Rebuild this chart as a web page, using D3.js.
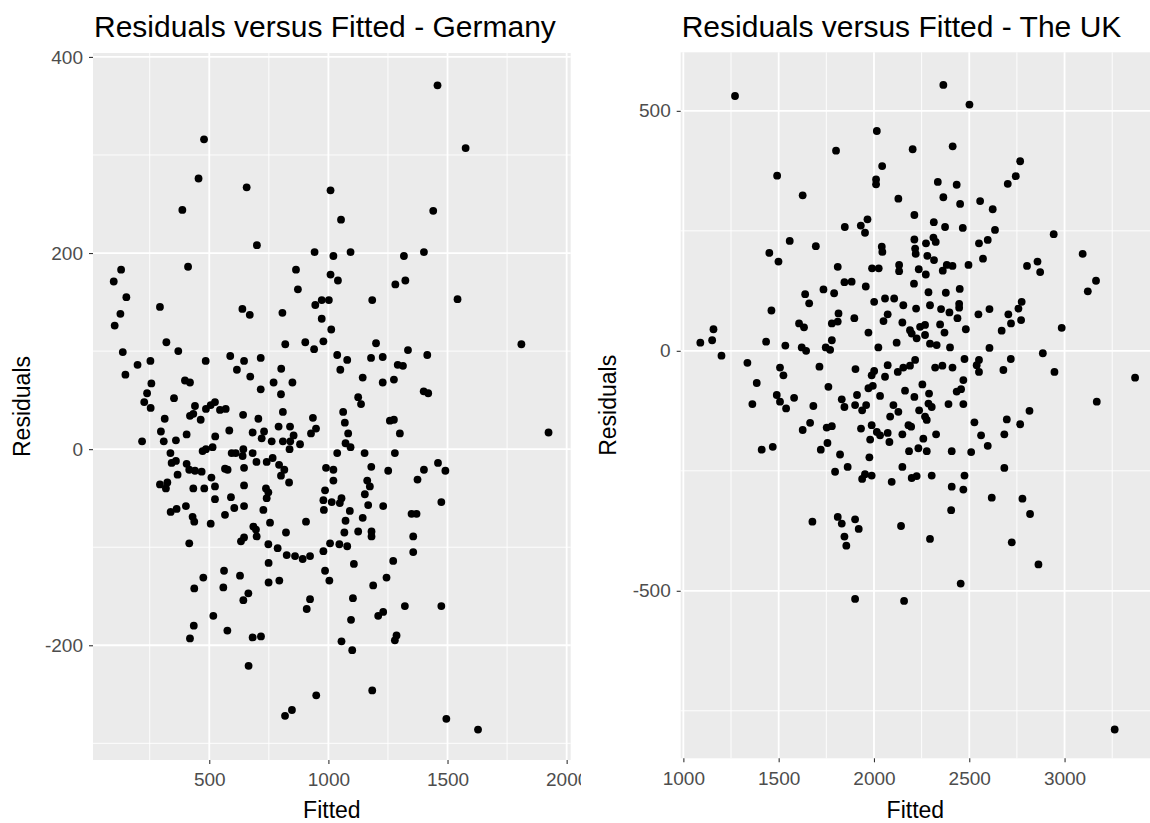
<!DOCTYPE html>
<html>
<head>
<meta charset="utf-8">
<script src="https://cdn.jsdelivr.net/npm/d3@7"></script>
<style>
  body { margin: 0; background: #fff; }
  text { font-family: "Liberation Sans", Arial, sans-serif; }
</style>
</head>
<body>
<svg id="chart" width="1150" height="823"></svg>
<script>
// [fitted, residual]
const germany = [
  [478,316],[455,276],[657,267],[387,244],[700,208],[942,201],[130,183],[411,186],[99,171],[864,183],
  [872,163],[152,155],[293,145],[127,138],[639,143],[670,137],[807,139],[103,126],[945,147],[320,109],
  [370,100],[137,99],[819,107],[903,109],[940,102],[199,86],[253,90],[148,76],[485,90],[588,95],
  [616,81],[646,90],[716,93],[672,74],[802,82],[257,67],[398,70],[419,68],[716,61],[770,68],
  [849,68],[801,56],[239,57],[352,52],
  [1458,371],[1576,307],[1009,264],[1053,234],[1440,243],[1021,197],[1093,201],[1317,197],[1401,201],[1009,178],
  [1040,172],[1281,168],[1323,172],[972,152],[1002,152],[1184,152],[1542,153],[972,133],[1012,122],[979,110],
  [1200,108],[1810,107],[1037,96],[1079,91],[1179,93],[1228,94],[1334,101],[1415,96],[1050,81],[1291,86],
  [1313,85],[1144,73],[1228,68],[1275,71],[1400,59],[1419,57],[1125,53],
  [227,48],[254,42],[440,44],[433,36],[419,34],[464,30],[486,41],[506,45],[524,48],[545,40],
  [569,41],[642,35],[706,31],[809,38],[935,32],[313,31],[297,18],[218,8],[309,8],[360,9],
  [405,15],[525,13],[584,19],[682,17],[730,18],[720,11],[791,23],[839,23],[854,14],[762,8],
  [809,8],[840,8],[881,5],[837,0],[927,16],[948,21],[337,-4],[342,-14],[360,-12],[405,-15],
  [416,-21],[440,-22],[468,-23],[367,-26],[472,-2],[486,0],[514,2],[594,-4],[611,-4],[643,0],
  [640,-7],[682,-4],[698,-13],[741,-13],[766,-9],[793,-16],[815,-21],[801,-27],[835,-34],[566,-20],
  [577,-21],[646,-19],[509,-29],[524,-38],[524,-51],[293,-36],[324,-34],[318,-40],[433,-40],[479,-40],
  [646,-37],[591,-49],[738,-40],[748,-44],[741,-50],[338,-64],[363,-61],[402,-58],[430,-69],[437,-74],
  [506,-76],[566,-67],[605,-60],[646,-58],[727,-62],[755,-75],[906,-74],[685,-79],[696,-82],[416,-96],
  [633,-94],[646,-90],[822,-85],[699,-89],[748,-97],[787,-101],[825,-108],[860,-109],[892,-112],[923,-109],
  [749,-116],[794,-134],[749,-136],[562,-124],[629,-129],[559,-141],[475,-131],[437,-142],[664,-147],[643,-154],
  [923,-153],[909,-163],[517,-170],[435,-180],[576,-185],[419,-193],[682,-192],[717,-191],[665,-221],[949,-251],
  [847,-266],[818,-272],
  [1137,46],[1062,38],[1069,27],[1083,16],[1072,6],[1093,2],[1258,29],[1275,30],[1300,16],[1924,17],
  [1037,-4],[1152,-4],[1279,-4],[990,-19],[1021,-21],[1180,-18],[1251,-22],[1401,-21],[1460,-14],[1491,-22],
  [1021,-32],[1374,-31],[1163,-32],[1174,-38],[986,-42],[1153,-46],[979,-52],[1014,-54],[1055,-50],[1048,-55],
  [981,-62],[1167,-57],[1230,-58],[1090,-63],[1144,-70],[1349,-66],[1370,-66],[1474,-54],[1072,-73],[1067,-85],
  [1125,-84],[1181,-84],[1181,-89],[1356,-89],[1007,-96],[1046,-97],[1079,-99],[979,-104],[1356,-105],[1107,-117],
  [1272,-114],[986,-124],[1004,-134],[1188,-139],[1244,-131],[1103,-152],[1321,-160],[1474,-160],[1209,-170],[1230,-166],
  [1095,-174],[1286,-190],[1279,-195],[1055,-196],[1100,-205],[1184,-246],[1495,-275],[1628,-286]
];

const uk = [
  [1271,531],[2015,458],[1801,417],[2043,385],[1492,365],[2011,357],[2011,347],[1626,324],[1966,274],[1931,261],
  [1953,246],[1847,258],[1558,229],[1695,218],[1451,204],[1499,186],[2041,217],[2044,206],[1810,175],[1990,172],
  [2025,172],[1845,143],[1883,144],[1957,134],[1735,128],[1791,120],[1639,118],[1660,99],[2001,102],[2058,109],
  [2106,109],[1462,84],[1814,78],[1810,61],[1779,57],[1897,68],[2072,76],[2050,62],[1607,57],[1633,49],
  [1971,38],[1158,45],[1151,22],[1089,17],[1200,-10],[1434,19],[1535,11],[1621,7],[1644,0],[1747,7],
  [1770,2],[1779,22],[2023,7],[1336,-25],[1507,-35],[1525,-51],[1714,-33],[1903,-38],[1988,-51],[2001,-42],
  [2072,-30],[2058,-54],[1385,-67],[1761,-75],[1971,-78],[1994,-73],[1490,-92],[1581,-98],[2032,-94],[1831,-101],
  [1911,-92],
  [2364,554],[2501,513],[2203,420],[2413,426],[2767,395],[2744,364],[2702,348],[2335,352],[2434,346],[2128,317],
  [2364,320],[2452,306],[2557,312],[2623,295],[2212,283],[2314,268],[2373,258],[2466,256],[2635,252],[2943,243],
  [2212,232],[2273,224],[2312,236],[2324,227],[2551,224],[2597,231],[2216,213],[2219,202],[2280,198],[2315,189],
  [2572,192],[3095,202],[2132,179],[2132,166],[2235,170],[2272,159],[2361,167],[2382,179],[2412,177],[2496,179],
  [2803,177],[2858,186],[2872,164],[2210,140],[2286,122],[2377,121],[2450,129],[3165,146],[3122,124],[2154,95],
  [2221,88],[2294,95],[2352,87],[2396,80],[2447,98],[2447,90],[2438,68],[2548,76],[2606,87],[2775,102],
  [2758,88],[2705,76],[2719,57],[2772,64],[2670,42],[2985,48],[2149,59],[2119,17],[2189,43],[2198,36],
  [2224,26],[2242,50],[2268,54],[2268,33],[2294,15],[2329,12],[2347,55],[2370,38],[2399,7],[2482,45],
  [2606,6],[2886,-5],[2947,-44],[3370,-56],[2216,-19],[2189,-31],[2154,-35],[2125,-44],[2321,-35],[2359,-31],
  [2412,-35],[2475,-17],[2539,-30],[2551,-19],[2551,-44],[2679,-40],[2718,-17],[2469,-61],[2254,-70],[2163,-83],
  [2212,-96],[2289,-89],[2434,-85],[2457,-80],
  [1362,-111],[1507,-106],[1539,-120],[1682,-115],[1845,-117],[1901,-113],[1938,-124],[1959,-113],[2085,-137],[2102,-113],
  [1665,-150],[1626,-165],[1752,-160],[1779,-157],[1932,-162],[1988,-155],[2015,-169],[2032,-176],[1980,-185],[2072,-171],
  [2081,-190],[1411,-206],[1469,-200],[1721,-206],[1756,-192],[1822,-216],[1976,-222],[1862,-242],[1796,-252],[1938,-267],
  [1953,-257],[1988,-260],[2093,-273],[1677,-356],[1810,-346],[1831,-360],[1901,-351],[1920,-371],[1845,-387],[1855,-406],
  [1901,-517],
  [2128,-127],[2286,-110],[2303,-117],[2237,-124],[2268,-137],[2277,-144],[2391,-111],[2469,-111],[3169,-106],[2816,-125],
  [2697,-143],[2767,-153],[2527,-149],[2181,-155],[2195,-158],[2149,-174],[2259,-183],[2326,-174],[2562,-176],[2684,-174],
  [2597,-198],[2184,-209],[2233,-203],[2277,-209],[2408,-209],[2510,-211],[2149,-242],[2198,-265],[2224,-261],[2303,-260],
  [2475,-260],[2684,-244],[2408,-283],[2469,-289],[2618,-306],[2779,-308],[2819,-340],[2405,-332],[2142,-365],[2294,-392],
  [2723,-399],[2863,-445],[2455,-485],[2158,-521],[3263,-789]
];

const germanyXTicks = [500, 1000, 1500, 2000];
const germanyXMinor = [250, 750, 1250, 1750];
const germanyYTicks = [-200, 0, 200, 400];
const germanyYMinor = [-300, -100, 100, 300];

const ukXTicks = [1000, 1500, 2000, 2500, 3000];
const ukXMinor = [1250, 1750, 2250, 2750, 3250];
const ukYTicks = [-500, 0, 500];
const ukYMinor = [-750, -250, 250];

const svg = d3.select("#chart");

const panels = [
  { title: "Residuals versus Fitted - Germany", data: germany,
    xDomain: [12, 2017], yDomain: [-317, 404],
    xTicks: germanyXTicks, xMinor: germanyXMinor, yTicks: germanyYTicks, yMinor: germanyYMinor,
    left: 93, right: 570.7, top: 53, bottom: 760, clipRight: 581, labelX: 22 },
  { title: "Residuals versus Fitted - The UK", data: uk,
    xDomain: [986, 3485], yDomain: [-849, 622],
    xTicks: ukXTicks, xMinor: ukXMinor, yTicks: ukYTicks, yMinor: ukYMinor,
    left: 680.7, right: 1157, top: 52.3, bottom: 758.3, clipRight: 1150, labelX: 608 }
];

panels.forEach((p, i) => {
  const x = d3.scaleLinear().domain(p.xDomain).range([p.left, p.right]);
  const y = d3.scaleLinear().domain(p.yDomain).range([p.bottom, p.top]);

  svg.append("clipPath").attr("id", "clip" + i)
    .append("rect").attr("x", 0).attr("y", 0)
    .attr("width", p.clipRight).attr("height", 823);

  const g = svg.append("g").attr("clip-path", "url(#clip" + i + ")");

  g.append("rect")
    .attr("x", p.left).attr("y", p.top)
    .attr("width", p.right - p.left).attr("height", p.bottom - p.top)
    .attr("fill", "#EBEBEB");

  // minor grid
  g.selectAll(".vminor").data(p.xMinor).join("line")
    .attr("x1", d => x(d)).attr("x2", d => x(d))
    .attr("y1", p.top).attr("y2", p.bottom)
    .attr("stroke", "#fff").attr("stroke-width", 0.9);
  g.selectAll(".hminor").data(p.yMinor).join("line")
    .attr("y1", d => y(d)).attr("y2", d => y(d))
    .attr("x1", p.left).attr("x2", p.right)
    .attr("stroke", "#fff").attr("stroke-width", 0.9);

  // major grid
  g.selectAll(".vmajor").data(p.xTicks).join("line")
    .attr("x1", d => x(d)).attr("x2", d => x(d))
    .attr("y1", p.top).attr("y2", p.bottom)
    .attr("stroke", "#fff").attr("stroke-width", 1.8);
  g.selectAll(".hmajor").data(p.yTicks).join("line")
    .attr("y1", d => y(d)).attr("y2", d => y(d))
    .attr("x1", p.left).attr("x2", p.right)
    .attr("stroke", "#fff").attr("stroke-width", 1.8);

  g.selectAll(".pt").data(p.data).join("circle")
    .attr("cx", d => x(d[0]))
    .attr("cy", d => y(d[1]))
    .attr("r", 3.9)
    .attr("fill", "#000");

  const xAxis = g.append("g")
    .attr("transform", "translate(0," + p.bottom + ")")
    .call(d3.axisBottom(x).tickValues(p.xTicks).tickSize(4).tickPadding(9).tickFormat(d => String(d)));
  const yAxis = g.append("g")
    .attr("transform", "translate(" + p.left + ",0)")
    .call(d3.axisLeft(y).tickValues(p.yTicks).tickSize(4).tickPadding(6).tickFormat(d => String(d)));

  [xAxis, yAxis].forEach(a => {
    a.select(".domain").remove();
    a.selectAll(".tick line").attr("stroke", "#333").attr("stroke-width", 1.1);
    a.selectAll(".tick text").attr("fill", "#4D4D4D").style("font-size", "19px");
  });

  g.append("text")
    .attr("x", p.left + 1).attr("y", 37)
    .style("font-size", "30px").attr("fill", "#000")
    .text(p.title);

  g.append("text")
    .attr("x", (p.left + Math.min(p.right, 1150)) / 2).attr("y", 818)
    .attr("text-anchor", "middle")
    .style("font-size", "23px").attr("fill", "#000")
    .text("Fitted");

  g.append("text")
    .attr("transform", "translate(" + (p.labelX + 8) + "," + ((p.top + p.bottom) / 2) + ") rotate(-90)")
    .attr("text-anchor", "middle")
    .style("font-size", "23px").attr("fill", "#000")
    .text("Residuals");
});
</script>
</body>
</html>
